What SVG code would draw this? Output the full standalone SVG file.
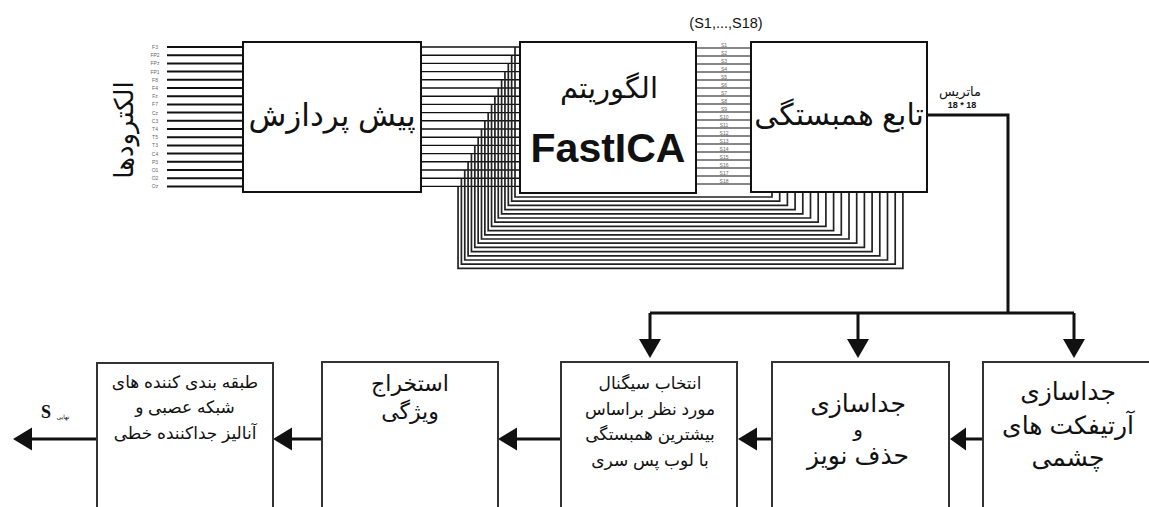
<svg xmlns="http://www.w3.org/2000/svg" width="1149" height="507" viewBox="0 0 1149 507">
<style>
.box{fill:#fff;stroke:#111;stroke-width:2}
.bbox{fill:#fff;stroke:#333;stroke-width:2}
.fa{font-family:"Liberation Sans","DejaVu Sans",sans-serif;fill:#111;text-anchor:middle}
.el{stroke:#111;stroke-width:2}
.w{fill:none;stroke:#111;stroke-width:1.4}
.lp{fill:none;stroke:#222;stroke-width:1.7}
.s{fill:none;stroke:#111;stroke-width:1.2}
.tiny{font-family:"Liberation Sans",sans-serif;font-size:5px;fill:#666;text-anchor:middle}
.con{fill:none;stroke:#111;stroke-width:3}
.ah{fill:#111}
</style>
<rect width="1149" height="507" fill="#fff"/>

<g id="connectors">
  <g>
    <line class="el" x1="167" y1="47" x2="243" y2="47"/>
    <line class="el" x1="167" y1="55.2" x2="243" y2="55.2"/>
    <line class="el" x1="167" y1="63.4" x2="243" y2="63.4"/>
    <line class="el" x1="167" y1="71.6" x2="243" y2="71.6"/>
    <line class="el" x1="167" y1="79.8" x2="243" y2="79.8"/>
    <line class="el" x1="167" y1="88" x2="243" y2="88"/>
    <line class="el" x1="167" y1="96.2" x2="243" y2="96.2"/>
    <line class="el" x1="167" y1="104.4" x2="243" y2="104.4"/>
    <line class="el" x1="167" y1="112.6" x2="243" y2="112.6"/>
    <line class="el" x1="167" y1="120.8" x2="243" y2="120.8"/>
    <line class="el" x1="167" y1="129" x2="243" y2="129"/>
    <line class="el" x1="167" y1="137.2" x2="243" y2="137.2"/>
    <line class="el" x1="167" y1="145.4" x2="243" y2="145.4"/>
    <line class="el" x1="167" y1="153.6" x2="243" y2="153.6"/>
    <line class="el" x1="167" y1="161.8" x2="243" y2="161.8"/>
    <line class="el" x1="167" y1="170" x2="243" y2="170"/>
    <line class="el" x1="167" y1="178.2" x2="243" y2="178.2"/>
    <line class="el" x1="167" y1="186.4" x2="243" y2="186.4"/>
  </g>
  <g class="tiny">
    <text x="155" y="49">F3</text>
    <text x="155" y="57.2">FP2</text>
    <text x="155" y="65.4">FPz</text>
    <text x="155" y="73.6">FP1</text>
    <text x="155" y="81.8">F8</text>
    <text x="155" y="90">F4</text>
    <text x="155" y="98.2">Fz</text>
    <text x="155" y="106.4">F7</text>
    <text x="155" y="114.6">Cz</text>
    <text x="155" y="122.8">C3</text>
    <text x="155" y="131">T4</text>
    <text x="155" y="139.2">T5</text>
    <text x="155" y="147.4">T3</text>
    <text x="155" y="155.6">C4</text>
    <text x="155" y="163.8">P3</text>
    <text x="155" y="172">O1</text>
    <text x="155" y="180.2">O2</text>
    <text x="155" y="188.4">Oz</text>
  </g>
  <g>
    <path class="w" d="M421,47H520M421,55.2H520M421,63.4H520M421,71.6H520M421,79.8H520M421,88H520M421,96.2H520M421,104.4H520M421,112.6H520M421,120.8H520M421,129H520M421,137.2H520M421,145.4H520M421,153.6H520M421,161.8H520M421,170H520M421,178.2H520M421,186.4H520"/>
  </g>
  <g>
    <path class="lp" d="M515,47V197H772V192"/>
    <path class="lp" d="M511.65,55.2V201.2H779.7V192"/>
    <path class="lp" d="M508.3,63.4V205.4H787.4V192"/>
    <path class="lp" d="M504.95,71.6V209.6H795.1V192"/>
    <path class="lp" d="M501.6,79.8V213.8H802.8V192"/>
    <path class="lp" d="M498.25,88V218H810.5V192"/>
    <path class="lp" d="M494.9,96.2V222.2H818.2V192"/>
    <path class="lp" d="M491.55,104.4V226.4H825.9V192"/>
    <path class="lp" d="M488.2,112.6V230.6H833.6V192"/>
    <path class="lp" d="M484.85,120.8V234.8H841.3V192"/>
    <path class="lp" d="M481.5,129V239H849V192"/>
    <path class="lp" d="M478.15,137.2V243.2H856.7V192"/>
    <path class="lp" d="M474.8,145.4V247.4H864.4V192"/>
    <path class="lp" d="M471.45,153.6V251.6H872.1V192"/>
    <path class="lp" d="M468.1,161.8V255.8H879.8V192"/>
    <path class="lp" d="M464.75,170V260H887.5V192"/>
    <path class="lp" d="M461.4,178.2V264.2H895.2V192"/>
    <path class="lp" d="M458.05,186.4V268.4H902.9V192"/>
  </g>
  <g>
    <path class="s" d="M696,48H751M696,56H751M696,64H751M696,72H751M696,80H751M696,88H751M696,96H751M696,104H751M696,112H751M696,120H751M696,128H751M696,136H751M696,144H751M696,152H751M696,160H751M696,168H751M696,176H751M696,184H751"/>
  </g>
  <g class="tiny">
    <text x="724" y="46.5">S1</text>
    <text x="724" y="54.5">S2</text>
    <text x="724" y="62.5">S3</text>
    <text x="724" y="70.5">S4</text>
    <text x="724" y="78.5">S5</text>
    <text x="724" y="86.5">S6</text>
    <text x="724" y="94.5">S7</text>
    <text x="724" y="102.5">S8</text>
    <text x="724" y="110.5">S9</text>
    <text x="724" y="118.5">S10</text>
    <text x="724" y="126.5">S11</text>
    <text x="724" y="134.5">S12</text>
    <text x="724" y="142.5">S13</text>
    <text x="724" y="150.5">S14</text>
    <text x="724" y="158.5">S15</text>
    <text x="724" y="166.5">S16</text>
    <text x="724" y="174.5">S17</text>
    <text x="724" y="182.5">S18</text>
  </g>
  <text x="726" y="28" font-family="Liberation Sans,sans-serif" font-size="14.5" fill="#111" text-anchor="middle">(S1,...,S18)</text>

  <path class="con" d="M927,115H1008V313"/>
  <path class="con" d="M650,313H1074"/>
  <path class="con" d="M650,313V340M858,313V340M1074,313V340"/>
  <polygon class="ah" points="639,339 661,339 650,358"/>
  <polygon class="ah" points="847,339 869,339 858,358"/>
  <polygon class="ah" points="1063,339 1085,339 1074,358"/>
  <text class="fa" x="960" y="96" font-size="13">ماتریس</text>
  <text x="962" y="108" font-family="Liberation Sans,sans-serif" font-size="9" font-weight="bold" fill="#111" text-anchor="middle">18 * 18</text>

  <path class="con" d="M983,439H964"/>
  <polygon class="ah" points="950,439 966,427.5 966,450.5"/>
  <path class="con" d="M772,439H754"/>
  <polygon class="ah" points="738,439 757,427.5 757,450.5"/>
  <path class="con" d="M561,439H514"/>
  <polygon class="ah" points="498,439 517,427.5 517,450.5"/>
  <path class="con" d="M322,439H289"/>
  <polygon class="ah" points="273,439 292,427.5 292,450.5"/>
  <path class="con" d="M97,439H30"/>
  <polygon class="ah" points="13,439 32,427.5 32,450.5"/>
  <text x="46" y="418" font-family="Liberation Serif,serif" font-size="18" font-weight="bold" fill="#111" text-anchor="middle">S</text>
  <text class="fa" x="63" y="419" font-size="6">نهایی</text>
</g>

<g id="electrodes-label">
  <text class="fa" font-size="26" transform="translate(124,130) rotate(-90)" dy="9">الکترودها</text>
</g>

<g id="preprocess">
  <rect class="box" x="243" y="42" width="178" height="150"/>
  <text class="fa" x="332" y="126" font-size="31">پیش پردازش</text>
</g>

<g id="fastica">
  <rect class="box" x="520" y="42" width="176" height="151"/>
  <text class="fa" x="609" y="98" font-size="29">الگوریتم</text>
  <text class="fa" x="608" y="162" font-size="41" font-weight="bold">FastICA</text>
</g>

<g id="correlation">
  <rect class="box" x="751" y="42" width="176" height="150"/>
  <text class="fa" x="839" y="125" font-size="30">تابع همبستگی</text>
</g>

<g id="eye-artifact">
  <rect class="bbox" x="983" y="362" width="190" height="160"/>
  <text class="fa" x="1068" y="400" font-size="25">جداسازی</text>
  <text class="fa" x="1068" y="434" font-size="25">آرتیفکت های</text>
  <text class="fa" x="1068" y="466" font-size="25">چشمی</text>
</g>

<g id="noise-removal">
  <rect class="bbox" x="772" y="362" width="177" height="160"/>
  <text class="fa" x="858" y="412" font-size="25">جداسازی</text>
  <text class="fa" x="858" y="436" font-size="20">و</text>
  <text class="fa" x="858" y="464" font-size="25">حذف نویز</text>
</g>

<g id="signal-select">
  <rect class="bbox" x="561" y="362" width="176" height="160"/>
  <text class="fa" x="650" y="389" font-size="17">انتخاب سیگنال</text>
  <text class="fa" x="650" y="415" font-size="17">مورد نظر براساس</text>
  <text class="fa" x="650" y="440" font-size="17">بیشترین همبستگی</text>
  <text class="fa" x="650" y="466" font-size="17">با لوب پس سری</text>
</g>

<g id="feature-extraction">
  <rect class="bbox" x="322" y="362" width="176" height="160"/>
  <text class="fa" x="410" y="391" font-size="22">استخراج</text>
  <text class="fa" x="410" y="419" font-size="22">ویژگی</text>
</g>

<g id="classifier">
  <rect class="bbox" x="97" y="363" width="176" height="160"/>
  <text class="fa" x="185" y="388" font-size="17">طبقه بندی کننده های</text>
  <text class="fa" x="185" y="413" font-size="17">شبکه عصبی و</text>
  <text class="fa" x="185" y="439" font-size="17">آنالیز جداکننده خطی</text>
</g>
</svg>
